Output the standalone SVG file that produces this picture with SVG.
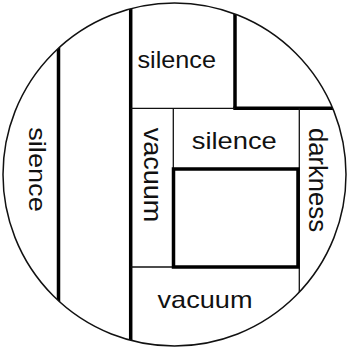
<svg xmlns="http://www.w3.org/2000/svg" width="349" height="349" viewBox="0 0 349 349">
<style>
.thin{stroke:#111;stroke-width:1.3;fill:none}
.thick{stroke:#000;stroke-width:3.5;fill:none}
.lbl{font-family:"Liberation Sans",Arial,sans-serif;font-size:24px;fill:#111;text-anchor:middle}
</style>
<defs>
<clipPath id="c"><circle cx="174.5" cy="174.5" r="171.5"/></clipPath>
</defs>
<rect width="349" height="349" fill="#fff"/>
<g id="lines" clip-path="url(#c)">
<line class="thick" x1="58.5" y1="0" x2="58.5" y2="349"/>
<line class="thick" x1="130.7" y1="0" x2="130.7" y2="349"/>
<line class="thick" x1="235" y1="0" x2="235" y2="108.3"/>
<line class="thick" x1="233.3" y1="108.3" x2="349" y2="108.3"/>
<line class="thin" x1="130.7" y1="108.3" x2="235" y2="108.3"/>
<line class="thin" x1="173.3" y1="108.3" x2="173.3" y2="267"/>
<line class="thin" x1="299.3" y1="108.3" x2="299.3" y2="349"/>
<line class="thin" x1="130.7" y1="267" x2="173.3" y2="267"/>
<rect class="thick" x="173.5" y="169" width="124.5" height="98"/>
</g>
<circle cx="174.5" cy="174.5" r="171.5" fill="none" stroke="#111" stroke-width="1.5"/>
<g id="silence-top"><text class="lbl" x="176.7" y="68.3" textLength="78.5" lengthAdjust="spacingAndGlyphs">silence</text></g>
<g id="silence-mid"><text class="lbl" x="234.3" y="149.3" textLength="85" lengthAdjust="spacingAndGlyphs">silence</text></g>
<g id="silence-left"><text class="lbl" transform="translate(28.5,169.5) rotate(90)" textLength="84.5" lengthAdjust="spacingAndGlyphs">silence</text></g>
<g id="vacuum-vert"><text class="lbl" style="font-size:25px" transform="translate(143.5,175) rotate(90)" textLength="94.5" lengthAdjust="spacingAndGlyphs">vacuum</text></g>
<g id="darkness"><text class="lbl" style="font-size:25.5px" transform="translate(308.5,180) rotate(90)" textLength="104" lengthAdjust="spacingAndGlyphs">darkness</text></g>
<g id="vacuum-bottom"><text class="lbl" x="205" y="308.3" textLength="95" lengthAdjust="spacingAndGlyphs">vacuum</text></g>
</svg>
